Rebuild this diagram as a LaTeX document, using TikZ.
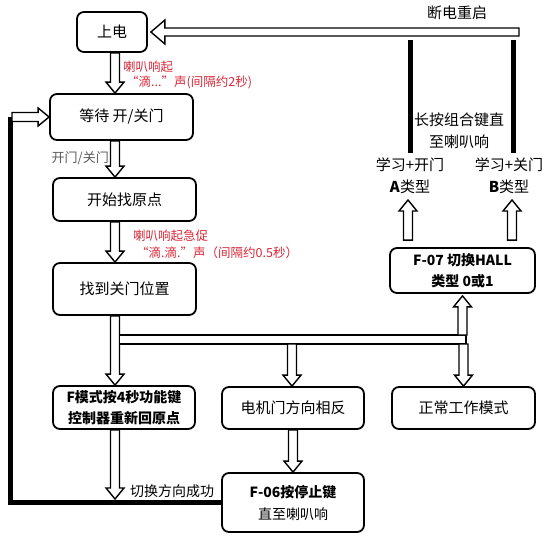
\documentclass[tikz,border=0pt]{standalone}
\usepackage{fontspec}
\setmainfont{Noto Sans CJK SC}
\usetikzlibrary{calc}
\definecolor{lblred}{RGB}{214,40,57}
\definecolor{lblgray}{RGB}{90,90,90}
\def\hw{4.5pt}\def\hH{9pt}\def\hL{11pt}
\newcommand\harrow[2]{%
  \coordinate (hA) at #1; \coordinate (hB) at #2;
  \coordinate (hC) at ($(hB)!\hL!(hA)$);
  \path[hollow] ($(hA)!\hw!90:(hB)$) -- ($(hC)!\hw!90:(hB)$) -- ($(hC)!\hH!90:(hB)$)
    -- (hB) -- ($(hC)!\hH!-90:(hB)$) -- ($(hC)!\hw!-90:(hB)$) -- ($(hA)!\hw!-90:(hB)$) -- cycle;
}
\tikzset{
  box/.style={draw, line width=1.8pt, rounded corners=7pt, inner sep=0pt, align=center, font=\fontsize{15}{20}\selectfont},
  hollow/.style={draw, fill=white, line width=1.4pt, line join=miter},
  thick line/.style={line width=5pt},
  lbl/.style={inner sep=0pt, font=\fontsize{15}{22}\selectfont, align=center},
  redlbl/.style={inner sep=0pt, text=lblred, align=left, anchor=west},
}
\begin{document}
\begin{tikzpicture}[x=1pt,y=-1pt]
\useasboundingbox (0,0) rectangle (554,538);
% boxes
\node[box, minimum width=70pt, minimum height=40pt] (pw) at (112,32) {上电};
\node[box, minimum width=143pt, minimum height=46pt] (wait) at (121.5,117) {等待 开/关门};
\node[box, minimum width=143pt, minimum height=43pt] (start) at (124.5,199.5) {开始找原点};
\node[box, minimum width=143pt, minimum height=52pt] (found) at (124.5,289) {找到关门位置};
\node[box, minimum width=142pt, minimum height=43pt, font=\fontsize{14}{21}\selectfont\bfseries] (fmode) at (124,407.5) {F模式按4秒功能键\\控制器重新回原点};
\node[box, minimum width=142pt, minimum height=42pt] (motor) at (293,408) {电机门方向相反};
\node[box, minimum width=143pt, minimum height=42pt] (normal) at (463.5,408) {正常工作模式};
\node[box, minimum width=142pt, minimum height=59pt, font=\fontsize{14}{22}\selectfont] (f06) at (293,502.5) {\textbf{F-06按停止键}\\直至喇叭响};
\node[box, minimum width=145pt, minimum height=45pt, font=\fontsize{14}{21}\selectfont\bfseries] (f07) at (462.5,270.5) {F-07 切换HALL\\类型 0或1};
% helper coordinates
\coordinate (spine) at (115,0);
\coordinate (barT) at (0,335);
\coordinate (barB) at (0,344);
\coordinate (lx) at (10,0);
\coordinate (loopB) at (0,499);
\coordinate (rs) at (519,31);
\coordinate (ta) at (408,200);
\coordinate (tb) at (512,200);
\coordinate (tl) at (0,40);
\coordinate (bl) at (0,153);
% thick lines
\draw[thick line, line join=miter] (f06.west) -- (f06.west -| lx) -- (lx |- wait.west);
\draw[thick line] (ta |- tl) ++(2,0) -- ($(ta |- bl)+(2,0)$);
\draw[thick line] (tb |- tl) ++(1,0) -- ($(tb |- bl)+(1,0)$);
% arrows
\harrow{(pw.south -| spine)}{(spine |- wait.north)}
\harrow{(spine |- wait.south)}{(spine |- start.north)}
\harrow{(spine |- start.south)}{(spine |- found.north)}
\harrow{(spine |- found.south)}{(spine |- fmode.north)}
\filldraw[hollow] (119.5,335) rectangle (466,344);
\harrow{($(motor.north |- barB)+(-1,0)$)}{($(motor.north)+(-1,0)$)}
\harrow{(normal.north |- barB)}{(normal.north)}
\harrow{($(f07.south |- barT)+(0,0)$)}{($(f07.south)+(0,2)$)}
\harrow{(motor.south)}{(f06.north)}
\harrow{(spine |- fmode.south)}{(spine |- loopB)}
\harrow{($(f07.north -| ta)+(0,-7)$)}{(ta)}
\harrow{($(f07.north -| tb)+(0,-7)$)}{(tb)}
\harrow{($(lx |- wait.west)+(2,0)$)}{(wait.west)}
\begin{scope}
\def\hw{4pt}\def\hH{12pt}\def\hL{14pt}
\harrow{(rs |- pw.east)}{($(pw.east)+(3,0)$)}
\end{scope}
% labels
\node[lbl] (restart) at (457,13) {断电重启};
\node[lbl] (combo) at (459,131) {长按组合键直\\至喇叭响};
\node[lbl] (la) at (410,176) {学习+开门\\\textbf{A}类型};
\node[lbl] (lb) at (509,176) {学习+关门\\\textbf{B}类型};
\node[redlbl, font=\fontsize{12.5}{15}\selectfont] (r1) at (123,74.5) {喇叭响起\\\hspace{3pt}“滴...”声(间隔约2秒)};
\node[redlbl, font=\fontsize{12.5}{17}\selectfont] (r2) at (133,244.5) {喇叭响起急促\\\hspace{3pt}“滴.滴.”声（间隔约0.5秒）};
\node[inner sep=0pt, text=lblgray, font=\fontsize{13}{15}\selectfont, anchor=east] (oc) at (109,158) {开门/关门};
\node[inner sep=0pt, font=\fontsize{14}{16}\selectfont, anchor=west] (ok) at (130,491) {切换方向成功};
\end{tikzpicture}
\end{document}
